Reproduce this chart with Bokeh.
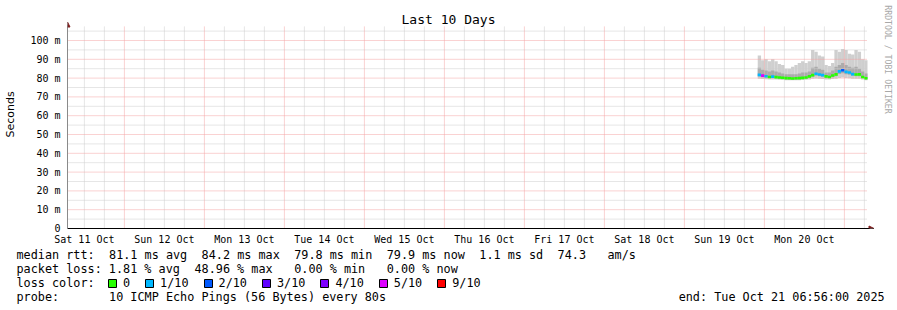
import re
from datetime import datetime, timedelta
from math import pi

from bokeh.plotting import figure
from bokeh.layouts import column
from bokeh.models import (Range1d, LinearAxis, DatetimeAxis, FixedTicker, DatetimeTickFormatter,
                          Legend, LegendItem, ColumnDataSource, Arrow, NormalHead)
from bokeh.core.properties import value
from bokeh.embed import file_html
from bokeh.resources import INLINE

# ---------------- data ----------------
graph_end = datetime(2025, 10, 21, 6, 56, 0)
graph_start = graph_end - timedelta(days=10)
first_sample = datetime(2025, 10, 19, 22, 0, 0)
sample_hours = 1

median_ms = [81.7, 81.3, 81.0, 80.6, 80.8, 80.5, 80.3, 80.2, 80.0, 79.9, 79.8,
             79.9, 80.0, 80.1, 80.3, 80.9, 81.6, 82.3, 81.9, 81.6, 80.9, 80.6,
             81.4, 82.0, 83.6, 84.2, 83.3, 83.0, 82.1, 81.9, 82.0, 80.6, 79.9]
loss_pings = [1, 5, 1, 0, 1, 0, 0, 0, 0, 0, 0,
              0, 0, 0, 0, 0, 0, 1, 1, 1, 0, 0,
              0, 0, 1, 2, 1, 1, 1, 0, 0, 0, 0]
ping_min_ms = [79.6, 79.5, 79.4, 79.3, 79.3, 79.2, 79.1, 79.0, 78.9, 78.9, 78.8,
               78.9, 78.9, 79.0, 79.1, 79.3, 79.6, 79.8, 79.7, 79.5, 79.3, 79.2,
               79.5, 79.7, 80.1, 80.3, 80.0, 79.9, 79.7, 79.6, 79.6, 79.2, 78.9]
ping_p20_ms = [80.8, 80.5, 80.3, 80.0, 80.1, 79.9, 79.7, 79.6, 79.4, 79.3, 79.3,
               79.3, 79.4, 79.5, 79.7, 80.1, 80.7, 81.2, 81.0, 80.7, 80.2, 80.0,
               80.5, 81.0, 82.2, 82.6, 82.0, 81.8, 81.2, 81.0, 81.0, 80.0, 79.4]
ping_p80_ms = [85.5, 84.5, 84.0, 83.5, 84.0, 83.5, 83.0, 82.5, 82.0, 82.0, 82.0,
               82.0, 82.5, 83.0, 83.0, 83.5, 85.5, 86.0, 85.0, 84.5, 83.0, 83.0,
               84.0, 86.0, 87.0, 88.0, 87.0, 86.0, 85.5, 86.0, 85.0, 83.5, 82.5]
ping_max_ms = [92.0, 89.5, 90.0, 89.0, 90.0, 89.0, 87.5, 87.0, 85.0, 85.0, 86.0,
               87.0, 88.0, 89.0, 88.0, 89.0, 95.0, 94.0, 92.0, 91.5, 87.0, 86.5,
               88.0, 95.0, 94.0, 95.5, 95.0, 93.0, 92.5, 95.0, 94.0, 90.0, 89.5]

loss_levels = [0, 1, 2, 3, 4, 5, 9]
loss_labels = ["0", "1/10", "2/10", "3/10", "4/10", "5/10", "9/10"]
loss_colors = ["#26ff00", "#00b8ff", "#0059ff", "#5e00ff", "#7e00ff", "#dd00ff", "#ff0000"]

y_ticks = [0, 10, 20, 30, 40, 50, 60, 70, 80, 90, 100]
y_tick_labels = ["0", "10 m", "20 m", "30 m", "40 m", "50 m", "60 m", "70 m", "80 m", "90 m", "100 m"]
y_minor_ticks = [5, 15, 25, 35, 45, 55, 65, 75, 85, 95, 105]

title_text = "Last 10 Days"
y_label_text = "Seconds"
watermark_text = "RRDTOOL / TOBI OETIKER"
stats_line = "median rtt:  81.1 ms avg  84.2 ms max  79.8 ms min  79.9 ms now  1.1 ms sd  74.3   am/s"
loss_line = "packet loss: 1.81 % avg  48.96 % max   0.00 % min   0.00 % now"
color_caption = "loss color:"
probe_line = "probe:       10 ICMP Echo Pings (56 Bytes) every 80s"
end_line = "end: Tue Oct 21 06:56:00 2025"

# ---------------- layout ----------------
W = 897
H_MAIN, H_TEXT = 248, 62
FL, FB = 67, 228            # frame left / bottom (canvas px)
GRID_RIGHT, GRID_TOP = 867, 25.7
PX_DAY, PX_MS = 80.0, 1.88
MONO = "DejaVu Sans Mono"
CW = 7.12                   # legend text advance
EPOCH = datetime(1970, 1, 1)


def ms(t):
    return (t - EPOCH).total_seconds() * 1000.0


def t_at(cx):
    return graph_start + timedelta(days=(cx - FL) / PX_DAY)


def v_at(cy):
    return (FB - cy) / PX_MS


def loss_color(n):
    c = loss_colors[0]
    for lvl, col in zip(loss_levels, loss_colors):
        if n >= lvl:
            c = col
    return c


p = figure(width=W, height=H_MAIN, output_backend="svg", toolbar_location=None,
           x_axis_type=None, y_axis_type=None, title=None,
           x_range=Range1d(ms(graph_start), ms(t_at(W))), y_range=Range1d(0, v_at(0)),
           min_border_left=FL, min_border_right=0, min_border_top=0, min_border_bottom=H_MAIN - FB)
p.outline_line_color = None
p.frame_align = False

# ---- smoke (sorted ping bands) ----
lefts = [first_sample + timedelta(hours=sample_hours * i) for i in range(len(median_ms))]
rights = [min(t + timedelta(hours=sample_hours), graph_end) for t in lefts]
src = ColumnDataSource(dict(
    left=[ms(t) for t in lefts], right=[ms(t) for t in rights],
    pmin=ping_min_ms, p20=ping_p20_ms, p80=ping_p80_ms, pmax=ping_max_ms,
    med_lo=[m - 0.7 for m in median_ms], med_hi=[m + 0.7 for m in median_ms],
    color=[loss_color(n) for n in loss_pings],
))
p.quad(left="left", right="right", bottom="pmin", top="pmax", source=src,
       fill_color="#cfcfcf", line_color=None)
p.quad(left="left", right="right", bottom="p20", top="p80", source=src,
       fill_color="#ababab", line_color=None)

# ---- grid (dotted, bounded to the graph area) ----
day0 = datetime(graph_start.year, graph_start.month, graph_start.day)
six_h = [day0 + timedelta(hours=6 * k) for k in range(0, 4 * 12)]
six_h = [t for t in six_h if graph_start < t <= graph_end]
minor_t = [ms(t) for t in six_h if t.hour != 0]
midnights = [ms(t) for t in six_h if t.hour == 0]
noons = [ms(t) for t in (day0 + timedelta(days=k, hours=12) for k in range(11))
         if graph_start <= t <= graph_end]

g_top = v_at(GRID_TOP)
g_left, g_right = ms(graph_start), ms(t_at(GRID_RIGHT))
minor_col, major_col = "#cdcdcd", "#f4a4a4"
p.segment(x0=minor_t, x1=minor_t, y0=[0] * len(minor_t), y1=[g_top] * len(minor_t),
          line_color=minor_col, line_dash="1 1", line_width=1)
p.segment(x0=[g_left] * len(y_minor_ticks), x1=[g_right] * len(y_minor_ticks),
          y0=y_minor_ticks, y1=y_minor_ticks, line_color=minor_col, line_dash="1 1", line_width=1)
p.segment(x0=midnights, x1=midnights, y0=[0] * len(midnights), y1=[g_top] * len(midnights),
          line_color=major_col, line_dash="1 1", line_width=1)
p.segment(x0=[g_left] * (len(y_ticks) - 1), x1=[g_right] * (len(y_ticks) - 1),
          y0=y_ticks[1:], y1=y_ticks[1:], line_color=major_col, line_dash="1 1", line_width=1)

# ---- median, coloured by packet loss ----
p.quad(left="left", right="right", bottom="med_lo", top="med_hi", source=src,
       fill_color="color", line_color=None)

# ---- axes ----
yaxis = LinearAxis(ticker=FixedTicker(ticks=y_ticks, minor_ticks=[]),
                   major_label_overrides={t: l for t, l in zip(y_ticks, y_tick_labels)},
                   bounds=(0, v_at(24)),
                   major_tick_in=0, major_tick_out=0, minor_tick_in=0, minor_tick_out=0,
                   major_label_standoff=7, axis_line_color="#8a8a8a",
                   major_label_text_font=MONO, major_label_text_font_size="10px",
                   major_label_text_color="black",
                   axis_label=y_label_text, axis_label_standoff=10,
                   axis_label_text_font="DejaVu Sans", axis_label_text_font_size="11px",
                   axis_label_text_font_style="normal", axis_label_text_color="black")
p.add_layout(yaxis, "left")

fmt = "%a %d %b"
xaxis = DatetimeAxis(ticker=FixedTicker(ticks=noons, minor_ticks=[]),
                     formatter=DatetimeTickFormatter(milliseconds=fmt, seconds=fmt, minsec=fmt,
                                                     minutes=fmt, hourmin=fmt, hours=fmt, days=fmt,
                                                     months=fmt, years=fmt),
                     bounds=(ms(graph_start), ms(t_at(869))),
                     major_tick_in=0, major_tick_out=0, minor_tick_in=0, minor_tick_out=0,
                     major_label_standoff=5, axis_line_color="black",
                     major_label_text_font=MONO, major_label_text_font_size="10px",
                     major_label_text_color="black")
p.add_layout(xaxis, "below")

arrow_col = "#7f1f1f"
p.add_layout(Arrow(x_start=ms(graph_start), y_start=v_at(27), x_end=ms(graph_start), y_end=v_at(21.5),
                   line_color="#8a8a8a", line_width=1,
                   end=NormalHead(size=5, fill_color=arrow_col, line_color=arrow_col, line_width=1)))
p.add_layout(Arrow(x_start=ms(t_at(866)), y_start=0, x_end=ms(t_at(873.5)), y_end=0,
                   line_color="black", line_width=1,
                   end=NormalHead(size=5, fill_color=arrow_col, line_color=arrow_col, line_width=1)))

# ---- title and watermark ----
p.text(x=[ms(t_at(448))], y=[v_at(19)], text=[title_text], text_font=value(MONO),
       text_font_size=value("13px"), text_color="black", text_align="center",
       text_baseline="middle")
p.text(x=[ms(t_at(887))], y=[v_at(59)], text=[watermark_text], text_font=value(MONO),
       text_font_size=value("8.2px"), text_color="#a8a8a8", text_align="center",
       text_baseline="middle", angle=-pi / 2)

# ---------------- legend / statistics panel ----------------
q = figure(width=W, height=H_TEXT, output_backend="svg", toolbar_location=None,
           x_axis_type=None, y_axis_type=None, title=None,
           x_range=Range1d(0, W), y_range=Range1d(H_MAIN + H_TEXT, H_MAIN),
           min_border=0, min_border_left=0, min_border_right=0, min_border_top=0, min_border_bottom=0)
q.outline_line_color = None
q.frame_align = False

seg_x, seg_y, seg_t = [], [], []


def add_text_line(text, row_cy, col0=0):
    for m in re.finditer(r"\S+(?: \S+)*", text):
        seg_x.append(16 + (col0 + m.start()) * CW)
        seg_y.append(row_cy)
        seg_t.append(m.group())


add_text_line(stats_line, 254)
add_text_line(loss_line, 268)
add_text_line(color_caption, 282)
add_text_line(probe_line, 296)
add_text_line(end_line, 296, col0=93)
q.text(x=seg_x, y=seg_y, text=seg_t, text_font=value(MONO), text_font_size=value("11.8px"),
       text_color="black", text_align="left", text_baseline="middle")

# legend proxies: one key per loss level, kept outside the visible range
items = []
for lbl, col in zip(loss_labels, loss_colors):
    r = q.quad(left=[-20], right=[-10], top=[H_MAIN - 20], bottom=[H_MAIN - 10],
               fill_color=col, line_color="black", line_width=1)
    items.append(LegendItem(label=lbl, renderers=[r]))
legend = Legend(items=items, orientation="horizontal", location=(107, H_MAIN + H_TEXT - 290),
                glyph_width=10, glyph_height=10, label_standoff=6, spacing=14, label_width=7,
                padding=0, margin=0, border_line_color=None, background_fill_alpha=0,
                label_text_font=MONO, label_text_font_size="11.8px", label_text_color="black",
                label_height=10)
q.add_layout(legend)

layout = column(p, q, spacing=0)
open("out.html", "w").write(file_html(layout, INLINE))
